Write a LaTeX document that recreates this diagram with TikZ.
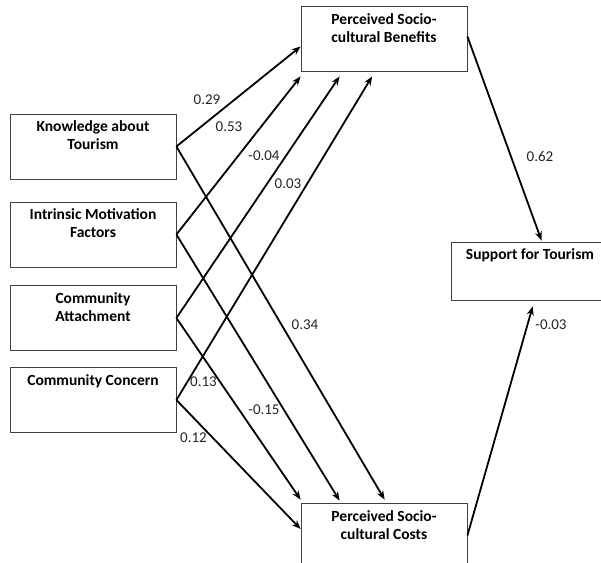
\documentclass[tikz,border=0pt]{standalone}
\usepackage{fontspec}
\setmainfont{Carlito}
\usetikzlibrary{arrows.meta}
\begin{document}
\begin{tikzpicture}[x=1pt,y=-1pt,
  box/.style={draw=black!75,line width=0.8pt,rectangle,minimum width=166pt,minimum height=65pt,inner sep=0pt},
  boxtext/.style={font=\fontsize{15.5}{18}\selectfont\bfseries,align=center,inner sep=0pt,anchor=north},
  coef/.style={font=\fontsize{15}{17}\selectfont,inner sep=0pt,text=black!85},
  path/.style={line width=1.8pt,-{Stealth[length=9pt,width=7pt]}}]
\clip (0,0) rectangle (601,562);
\fill[white] (0,0) rectangle (601,562);
% boxes
\node[box,label={[boxtext,yshift=-8pt]north:{Perceived Socio-\\cultural Benefits}}] (ben) at (384,38.5) {};
\node[box,label={[boxtext,yshift=-7pt]north:{Knowledge about\\Tourism}}] (know) at (93,146.5) {};
\node[box,label={[boxtext,yshift=-7pt]north:{Intrinsic Motivation\\Factors}}] (intr) at (93,234.5) {};
\node[box,label={[boxtext,yshift=-7pt]north:{Community\\Attachment}}] (att) at (93,318) {};
\node[box,label={[boxtext,yshift=-7pt]north:{Community Concern}}] (conc) at (93,400) {};
\node[box,minimum width=158pt,minimum height=58pt,label={[boxtext,yshift=-7pt]north:{Support for Tourism}}] (sup) at (530,271) {};
\node[box,label={[boxtext,yshift=-8pt]north:{Perceived Socio-\\cultural Costs}}] (cost) at (384,535.5) {};
% paths to benefits
\draw[path] (know.east) -- ([yshift=-8pt]ben.west);
\draw[path] (intr.east) -- ([yshift=-5pt]ben.south west);
\draw[path] (att.east) -- ([xshift=39pt,yshift=-5pt]ben.south west);
\draw[path] (conc.east) -- ([xshift=71.5pt,yshift=-5pt]ben.south west);
% paths to costs
\draw[path] (know.east) -- ([xshift=84pt,yshift=3pt]cost.north west);
\draw[path] (intr.east) -- ([xshift=39pt,yshift=2pt]cost.north west);
\draw[path] (att.east) -- ([yshift=3pt]cost.north west);
\draw[path] (conc.east) -- ([yshift=6.5pt]cost.west);
% to support
\draw[path] ([yshift=2pt]ben.east) -- ([xshift=11.5pt,yshift=1pt]sup.north);
\draw[path] (cost.east) -- ([xshift=2.7pt,yshift=-6pt]sup.south);
% coefficients
\node[coef] (c1) at (207,100) {0.29};
\node[coef] (c2) at (229,127) {0.53};
\node[coef] (c3) at (264,156) {-0.04};
\node[coef] (c4) at (288,184) {0.03};
\node[coef] (c5) at (305,325) {0.34};
\node[coef] (c6) at (203.5,382) {0.13};
\node[coef] (c7) at (264,410) {-0.15};
\node[coef] (c8) at (193.5,438) {0.12};
\node[coef] (c9) at (540,156) {0.62};
\node[coef] (c10) at (551,325) {-0.03};
\end{tikzpicture}
\end{document}
